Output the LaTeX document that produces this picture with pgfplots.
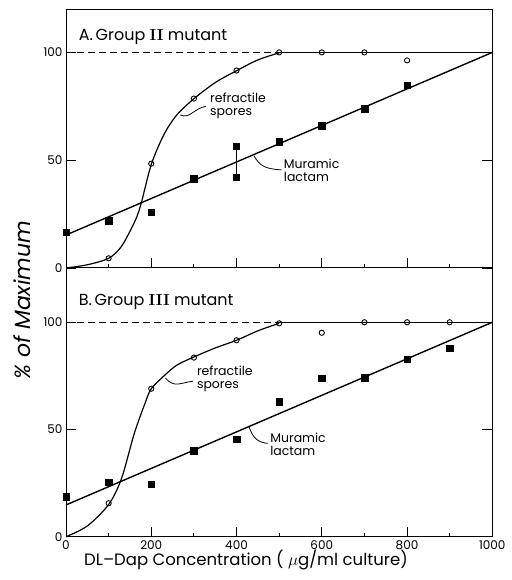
\documentclass[border=0pt]{standalone}
\usepackage{fontspec}
\setsansfont{Poppins}
\usepackage{pgfplots}
\pgfplotsset{compat=1.18}
\tikzset{ann/.style={anchor=west, align=left, font=\sffamily\fontsize{12.5}{13}\selectfont}}
\begin{document}
\begin{tikzpicture}
\useasboundingbox (0pt,0pt) rectangle (511pt,580pt);
\pgfplotsset{panel/.style={
  scale only axis, width=426.3pt, xmin=0, xmax=1000, ymin=0,
  axis line style={line width=1pt},
  xtick={0,200,...,1000}, minor xtick={100,300,...,900},
  ytick={0,50,100},
  tick align=inside, xtick pos=bottom, ytick pos=both,
  major tick length=10pt, minor tick length=4pt,
  every tick/.style={black, line width=0.9pt},
  tick label style={font=\sffamily\fontsize{12}{12}\selectfont},
  /pgf/number format/assume math mode=true,
  /pgf/number format/1000 sep={},
  clip=false,
  sq/.style={only marks, mark=square*, mark size=3.3pt},
  ci/.style={only marks, mark=o, mark size=2.6pt, mark options={fill=white, line width=0.9pt}},
}}
% ---- A. Group II mutant
\begin{axis}[panel, at={(66pt,312pt)}, anchor=south west, height=258.7pt, ymax=120, xticklabels={}]
\addplot[dash pattern=on 7pt off 4pt, line width=1pt] coordinates {(0,100)(500,100)};
\addplot[line width=1.2pt] coordinates {(500,100)(1000,100)};
\addplot[line width=1.2pt, smooth] coordinates {
  (0,0)(50,1.5)(100,4.5)(130,10)(160,21)(175,29)(200,48)(230,62)(260,71)
  (300,78.5)(350,86)(400,91.5)(450,96.5)(500,99.8)};
\addplot[line width=1.4pt] coordinates {(0,15.3)(1000,100)};
\addplot[line width=1pt, mark=square*, mark size=3.3pt] coordinates {(400,42)(400,56.4)};
\addplot[sq] coordinates {(0,16.6)(100,22)(200,25.9)(300,41.4)(500,58.7)(600,66)(700,74)(800,84.7)};
\addplot[ci] coordinates {(100,4.5)(200,48.4)(300,78.6)(400,91.6)(500,100)(600,100)(700,100)(800,96.3)};
\node[anchor=west, font=\sffamily\fontsize{16}{16}\selectfont] at (axis cs:22,107.1) {A.\,Group \textrm{\textbf{II}} mutant};
\node[ann] at (axis cs:330,75.1) {refractile\\spores};
\draw[line width=0.8pt] (axis cs:328,75) .. controls (axis cs:300,74) and (axis cs:290,69) .. (axis cs:268,71);
\node[ann] at (axis cs:503,45.5) {Muramic\\lactam};
\draw[line width=0.8pt] (axis cs:505,45.5) .. controls (axis cs:470,46) and (axis cs:455,47) .. (axis cs:441,52);
\end{axis}
% ---- B. Group III mutant
\begin{axis}[panel, at={(66pt,43.3pt)}, anchor=south west, height=268.7pt, ymax=125.3]
\addplot[dash pattern=on 7pt off 4pt, line width=1pt] coordinates {(0,100)(500,100)};
\addplot[line width=1.2pt] coordinates {(500,100)(1000,100)};
\addplot[line width=1.2pt, smooth] coordinates {
  (0,0)(50,5)(100,15)(130,27)(160,48)(185,62)(200,69)(230,75)(260,80)
  (300,83.8)(350,88)(400,91.6)(450,96)(500,99.5)};
\addplot[line width=1.4pt] coordinates {(0,14.8)(1000,100)};
\addplot[sq] coordinates {(0,18.7)(100,25.4)(200,24.4)(300,40.1)(400,45.4)(500,63)(600,73.9)(700,74.2)(800,82.7)(900,87.9)};
\addplot[ci] coordinates {(100,15.6)(200,69)(300,83.5)(400,91.6)(500,99.5)(600,95.1)(700,100)(800,100)(900,100)};
\node[anchor=west, font=\sffamily\fontsize{16}{16}\selectfont] at (axis cs:22,109.6) {B.\,Group \textrm{\textbf{III}} mutant};
\node[ann] at (axis cs:299,73.5) {refractile\\spores};
\draw[line width=0.8pt] (axis cs:298,72.5) .. controls (axis cs:270,72) and (axis cs:255,69) .. (axis cs:233,74);
\node[ann] at (axis cs:471,43.2) {Muramic\\lactam};
\draw[line width=0.8pt] (axis cs:473,43.5) .. controls (axis cs:450,44) and (axis cs:438,46) .. (axis cs:429,51.5);
\end{axis}
\node[rotate=90, font=\sffamily\itshape\fontsize{22}{22}\selectfont] at (22pt,280pt) {\% of Maximum};
\node[font=\sffamily\fontsize{16.5}{16.5}\selectfont] at (246pt,20pt) {DL--Dap Concentration ( $\mu$g/ml culture)};
\end{tikzpicture}
\end{document}
